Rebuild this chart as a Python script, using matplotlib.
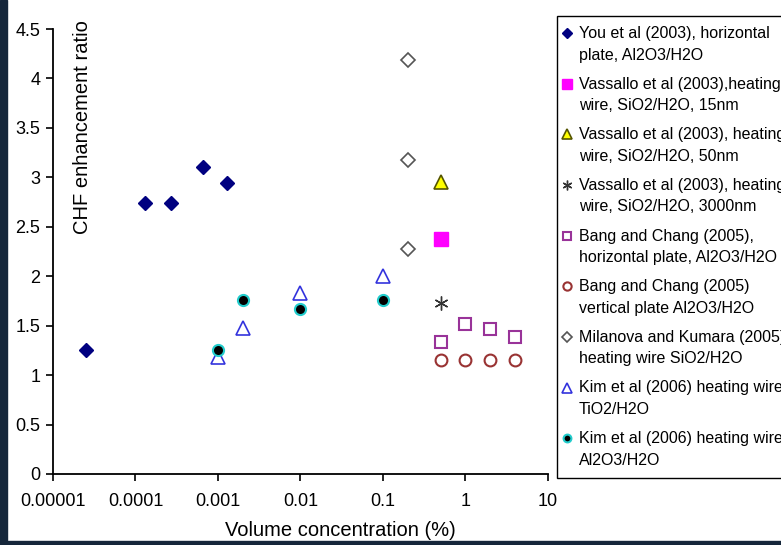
import matplotlib
matplotlib.use("Agg")
import matplotlib.pyplot as plt
import numpy as np
from matplotlib.lines import Line2D
from matplotlib.legend_handler import HandlerLine2D
from matplotlib.patches import Rectangle

plt.rcParams['font.family'] = ['Liberation Sans', 'DejaVu Sans']

# data (x = volume concentration in %, y = CHF ratio)
you_x = [0.000025, 0.00013, 0.00027, 0.00066, 0.0013]
you_y = [1.25, 2.74, 2.74, 3.10, 2.94]

vas15_x = [0.5]
vas15_y = [2.38]

vas50_x = [0.5]
vas50_y = [2.95]

vas3000_x = [0.5]
vas3000_y = [1.73]

bang_h_x = [0.5, 1, 2, 4]
bang_h_y = [1.33, 1.52, 1.47, 1.39]

bang_v_x = [0.5, 1, 2, 4]
bang_v_y = [1.15, 1.15, 1.15, 1.15]

mil_x = [0.2, 0.2, 0.2]
mil_y = [4.19, 3.18, 2.28]

kim_ti_x = [0.001, 0.002, 0.01, 0.1]
kim_ti_y = [1.18, 1.48, 1.83, 2.00]

kim_al_x = [0.001, 0.002, 0.01, 0.1]
kim_al_y = [1.25, 1.76, 1.67, 1.76]

labels = [
    "You et al (2003), horizontal\nplate, Al2O3/H2O",
    "Vassallo et al (2003),heating\nwire, SiO2/H2O, 15nm",
    "Vassallo et al (2003), heating\nwire, SiO2/H2O, 50nm",
    "Vassallo et al (2003), heating\nwire, SiO2/H2O, 3000nm",
    "Bang and Chang (2005),\nhorizontal plate, Al2O3/H2O",
    "Bang and Chang (2005)\nvertical plate Al2O3/H2O",
    "Milanova and Kumara (2005)\nheating wire SiO2/H2O",
    "Kim et al (2006) heating wire\nTiO2/H2O",
    "Kim et al (2006) heating wire\nAl2O3/H2O",
]

xticks = [0.00001, 0.0001, 0.001, 0.01, 0.1, 1, 10]
xtick_labels = ["0.00001", "0.0001", "0.001", "0.01", "0.1", "1", "10"]
yticks = [0, 0.5, 1, 1.5, 2, 2.5, 3, 3.5, 4, 4.5]
ytick_labels = ["0", "0.5", "1", "1.5", "2", "2.5", "3", "3.5", "4", "4.5"]


class FirstLineHandler(HandlerLine2D):
    # put the marker next to the first line of a two line label
    def create_artists(self, legend, orig_handle, xdescent, ydescent,
                       width, height, fontsize, trans):
        arts = super().create_artists(legend, orig_handle, xdescent, ydescent,
                                      width, height, fontsize, trans)
        for a in arts:
            a.set_ydata(np.asarray(a.get_ydata()) + 0.72 * fontsize)
            a.set_xdata(np.asarray(a.get_xdata()) - 0.3 * fontsize)
        return arts


fig = plt.figure(figsize=(7.81, 5.45), dpi=100)
fig.patch.set_facecolor("white")

# dark frame of the slide around the picture
fig.patches.append(Rectangle((0, 0), 7 / 781, 1, transform=fig.transFigure,
                             color="#15263a", zorder=0))
fig.patches.append(Rectangle((0, 0), 1, 4 / 545, transform=fig.transFigure,
                             color="#15263a", zorder=0))

ax = fig.add_axes([53 / 781, 1 - 474 / 545, 495 / 781, 445 / 545])

ax.plot(you_x, you_y, ls="none", marker="D", ms=7.3, color="#000080",
        label=labels[0])
ax.plot(vas15_x, vas15_y, ls="none", marker="s", ms=9.5, color="#ff00ff",
        label=labels[1])
ax.plot(vas50_x, vas50_y, ls="none", marker="^", ms=10, mfc="#ffff00",
        mec="#555500", mew=1.2, label=labels[2])
ax.plot(vas3000_x, vas3000_y, ls="none", marker=(6, 2, 0), ms=10,
        color="#333333", mew=1.0, label=labels[3])
ax.plot(bang_h_x, bang_h_y, ls="none", marker="s", ms=9, mfc="none",
        mec="#993399", mew=1.5, label=labels[4])
ax.plot(bang_v_x, bang_v_y, ls="none", marker="o", ms=8.5, mfc="none",
        mec="#993333", mew=1.5, label=labels[5])
ax.plot(mil_x, mil_y, ls="none", marker="D", ms=7, mfc="none",
        mec="#555555", mew=1.2, label=labels[6])
ax.plot(kim_ti_x, kim_ti_y, ls="none", marker="^", ms=10, mfc="none",
        mec="#3333dd", mew=1.2, label=labels[7])
ax.plot(kim_al_x, kim_al_y, ls="none", marker="o", ms=8, mfc="black",
        mec="#22cccc", mew=1.5, label=labels[8])

ax.set_xscale("log")
ax.set_xlim(1e-5, 10)
ax.set_ylim(0, 4.5)
ax.set_xticks(xticks)
ax.set_xticklabels(xtick_labels)
ax.xaxis.set_minor_locator(matplotlib.ticker.NullLocator())
ax.set_yticks(yticks)
ax.set_yticklabels(ytick_labels)
ax.tick_params(labelsize=13, length=5, width=1.2, direction="out", pad=4)
ax.tick_params(axis="x", pad=9)
ax.spines["top"].set_visible(False)
ax.spines["right"].set_visible(False)
ax.spines["left"].set_linewidth(1.3)
ax.spines["bottom"].set_linewidth(1.3)

fig.text(82 / 781, 1 - 20 / 545, "CHF enhancement ratio", rotation=90,
         ha="center", va="top", fontsize=14.5)
fig.text(340 / 781, 1 - 530 / 545, "Volume concentration (%)",
         ha="center", va="center", fontsize=14.5)

leg = ax.legend(loc="upper left", bbox_to_anchor=(557 / 781, 1 - 16 / 545),
                bbox_transform=fig.transFigure, borderaxespad=0,
                fontsize=11.5, fancybox=False, edgecolor="black",
                framealpha=1, markerscale=0.7, handlelength=0.6,
                handletextpad=0.15, labelspacing=0.88, borderpad=0.62,
                handler_map={Line2D: FirstLineHandler()})
leg.get_frame().set_linewidth(1.0)
for t in leg.get_texts():
    t.set_linespacing(1.55)

fig.savefig("out.png", dpi=100)
